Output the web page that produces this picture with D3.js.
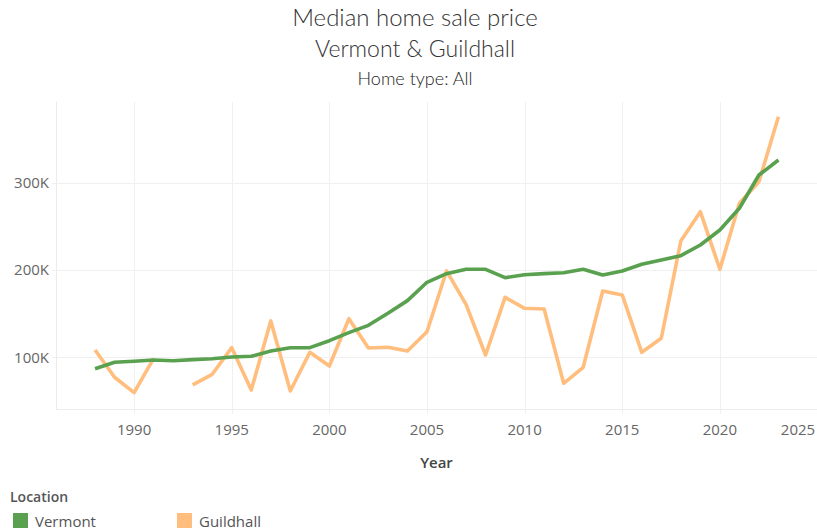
<!DOCTYPE html>
<html>
<head>
<meta charset="utf-8">
<script src="https://cdn.jsdelivr.net/npm/d3@7"></script>
<style>
  body { margin: 0; background: #fff; }
  svg { display: block; font-family: "Open Sans", sans-serif; }
</style>
</head>
<body>
<script>
// years and median prices (USD)
var years = d3.range(1988, 2024);
var vermont = [86900, 94300, 95400, 96900, 96100, 97300, 98400, 100300, 101100, 107200,
               111000, 111000, 119000, 128200, 136600, 150400, 164900, 185900, 195800, 200800,
               200800, 191200, 194600, 195800, 196900, 200800, 194300, 198900, 206500, 211500,
               216400, 228600, 245800, 270700, 308800, 326000];
// null = no sales that year
var guildhall = [108400, 77100, 59500, 98800, null, 68300, 80500, 111000, 62500, 141600,
                 61400, 105700, 90000, 144200, 110700, 111500, 107200, 129300, 198900, 160700,
                 102600, 168700, 156100, 155300, 70200, 88500, 175900, 171400, 105700, 121800,
                 233200, 266800, 200800, 276400, 301100, 375600];
var yTicks = [100000, 200000, 300000];
var xTicks = [1990, 1995, 2000, 2005, 2010, 2015, 2020, 2025];
var seriesNames = ["Vermont", "Guildhall"];
var seriesColors = ["#59a14f", "#ffbe7d"];
var titleLines = ["Median home sale price", "Vermont & Guildhall", "Home type: All"];

var width = 817, height = 531;
var svg = d3.select("body").append("svg")
    .attr("width", width)
    .attr("height", height);

var x = d3.scaleLinear().domain([1986, 2025]).range([56, 817.5]);
var y = d3.scaleLinear().domain([40400, 392800]).range([409.3, 101.7]);

// grid
svg.append("g").selectAll("line").data(yTicks).join("line")
    .attr("x1", 52).attr("x2", width)
    .attr("y1", function(d) { return Math.round(y(d)) + 0.5; })
    .attr("y2", function(d) { return Math.round(y(d)) + 0.5; })
    .attr("stroke", "#f0f0f0");
svg.append("g").selectAll("line").data(xTicks).join("line")
    .attr("x1", function(d) { return Math.round(x(d)) + 0.5; })
    .attr("x2", function(d) { return Math.round(x(d)) + 0.5; })
    .attr("y1", 101.7).attr("y2", 414)
    .attr("stroke", "#f0f0f0");
// axis lines
svg.append("line").attr("x1", 56.5).attr("x2", 56.5).attr("y1", 101.7).attr("y2", 409.5)
    .attr("stroke", "#ececec");
svg.append("line").attr("x1", 56).attr("x2", width).attr("y1", 409.5).attr("y2", 409.5)
    .attr("stroke", "#ececec");

// tick labels
svg.append("g").selectAll("text").data(yTicks).join("text")
    .attr("x", 49).attr("y", function(d) { return y(d); })
    .attr("dy", "0.35em")
    .attr("text-anchor", "end")
    .attr("font-size", 15).attr("fill", "#666")
    .text(function(d) { return d3.format("~s")(d).replace("k", "K"); });
svg.append("g").selectAll("text").data(xTicks).join("text")
    .attr("x", function(d) { return Math.min(x(d), width - 19); })
    .attr("y", 429.5)
    .attr("dy", "0.35em")
    .attr("text-anchor", "middle")
    .attr("font-size", 15).attr("fill", "#666")
    .text(function(d) { return d; });

svg.append("text")
    .attr("x", 436.5).attr("y", 463).attr("dy", "0.35em")
    .attr("text-anchor", "middle")
    .attr("font-size", 15).attr("font-weight", 600).attr("fill", "#444")
    .text("Year");

// lines, Guildhall underneath
var line = d3.line()
    .defined(function(d) { return d[1] != null; })
    .x(function(d) { return x(d[0]); })
    .y(function(d) { return y(d[1]); });

var series = [vermont, guildhall];
for (var i = series.length - 1; i >= 0; i--) {
    svg.append("path")
        .datum(years.map(function(yr, j) { return [yr, series[i][j]]; }))
        .attr("fill", "none")
        .attr("stroke", seriesColors[i])
        .attr("stroke-width", 3.6)
        .attr("stroke-linejoin", "round")
        .attr("d", line);
}

// title
var titleSizes = [24, 23, 18];
var titleY = [26, 56.5, 85];
svg.append("g").selectAll("text").data(titleLines).join("text")
    .attr("x", 415)
    .attr("y", function(d, i) { return titleY[i]; })
    .attr("text-anchor", "middle")
    .attr("font-family", "Lato, sans-serif")
    .attr("font-weight", 300)
    .attr("font-size", function(d, i) { return titleSizes[i]; })
    .attr("fill", function(d, i) { return i == 2 ? "#222" : "#333"; })
    .text(function(d) { return d; });

// legend
svg.append("text")
    .attr("x", 10).attr("y", 497).attr("dy", "0.35em")
    .attr("font-size", 14).attr("font-weight", 600).attr("fill", "#555")
    .text("Location");
var legend = svg.append("g").selectAll("g").data(seriesNames).join("g")
    .attr("transform", function(d, i) { return "translate(" + (13 + i * 164) + ",513)"; });
legend.append("rect")
    .attr("width", 15).attr("height", 15)
    .attr("fill", function(d, i) { return seriesColors[i]; });
legend.append("text")
    .attr("x", 22).attr("y", 8.5).attr("dy", "0.35em")
    .attr("font-size", 15).attr("fill", "#555")
    .text(function(d) { return d; });
</script>
</body>
</html>
